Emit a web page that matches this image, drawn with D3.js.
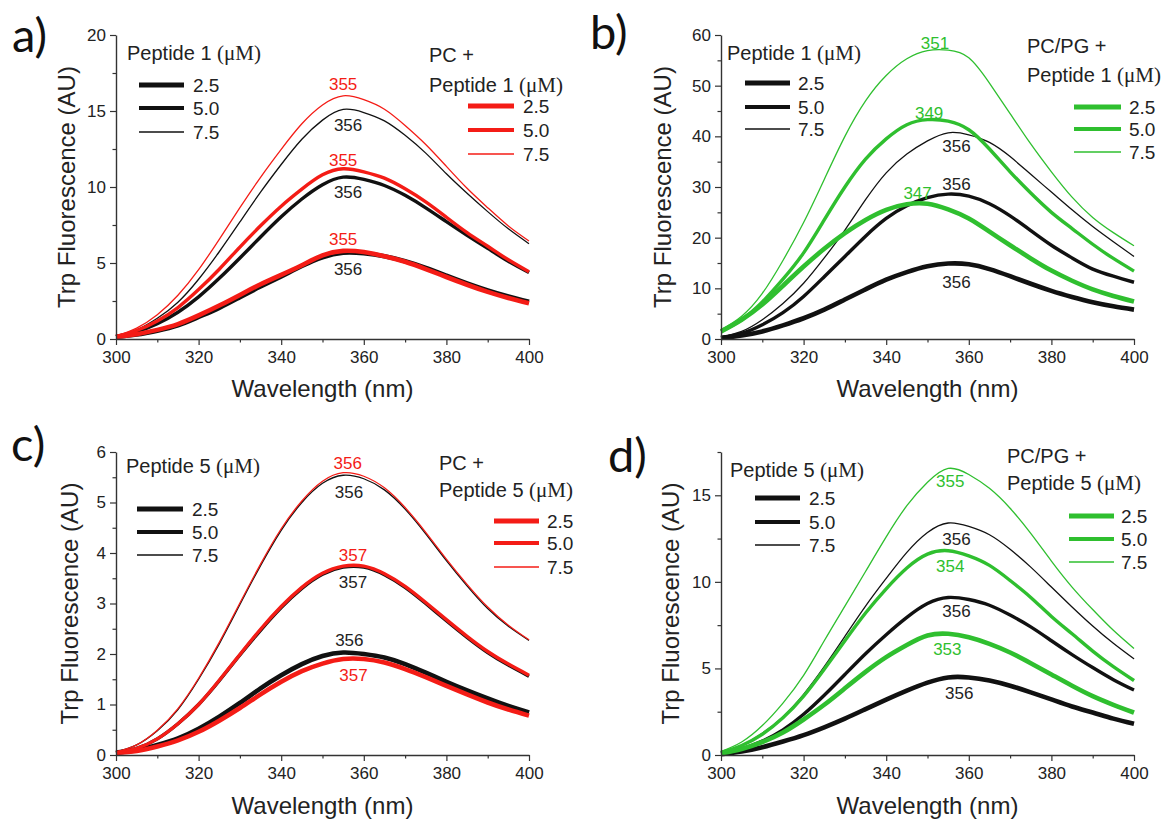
<!DOCTYPE html>
<html><head><meta charset="utf-8">
<script src="https://cdn.jsdelivr.net/npm/d3@7"></script>
<style>body{margin:0;background:#fff}svg{display:block}</style>
</head><body>
<svg id="chart" width="1169" height="819"></svg>
<script>
// ---------------- DATA ----------------
const wavelengths = [300,305,310,315,320,325,330,335,340,345,350,355,360,365,370,375,380,385,390,395,400];
const xMajorTicks = [300,320,340,360,380,400];
const xMinorTicks = [310,330,350,370,390];
const concentrations = ["2.5","5.0","7.5"];

// Panel a: Peptide 1 alone (black) and with PC (red)
const a_pep_25 = [0.15,0.3,0.55,0.9,1.45,2.05,2.75,3.45,4.12,4.8,5.38,5.68,5.64,5.44,5.12,4.68,4.17,3.66,3.2,2.8,2.45];
const a_pep_50 = [0.16,0.48,1.01,1.76,2.77,3.99,5.33,6.71,8.04,9.21,10.15,10.65,10.5,10.1,9.45,8.63,7.72,6.82,5.96,5.11,4.37];
const a_pep_75 = [0.18,0.6,1.36,2.42,3.93,5.74,7.7,9.66,11.48,13.14,14.4,15.1,14.9,14.35,13.4,12.23,10.87,9.59,8.38,7.25,6.27];
const a_pc_25  = [0.15,0.32,0.6,0.98,1.55,2.2,2.9,3.6,4.22,4.85,5.5,5.8,5.72,5.45,5.08,4.6,4.08,3.57,3.1,2.7,2.35];
const a_pc_50  = [0.17,0.56,1.18,2.07,3.25,4.59,6.05,7.45,8.74,9.86,10.8,11.2,11.0,10.58,9.88,9.02,8.01,7.0,6.1,5.21,4.42];
const a_pc_75  = [0.19,0.72,1.6,2.88,4.56,6.56,8.64,10.64,12.48,14.16,15.4,16.0,15.75,15.12,14.05,12.8,11.36,9.92,8.64,7.44,6.45];

// Panel b: Peptide 1 alone (black) and with PC/PG (green)
const b_pep_25 = [0.2,0.7,1.5,2.7,4.1,5.8,7.8,9.8,11.7,13.2,14.35,14.9,14.75,13.8,12.4,10.9,9.5,8.3,7.25,6.45,5.8];
const b_pep_50 = [0.3,1.1,2.8,5.2,8.4,12.3,16.3,20.3,23.8,26.3,27.9,28.6,28.2,26.7,24.3,21.4,18.5,16.0,13.8,12.4,11.2];
const b_pep_75 = [0.4,1.5,3.8,7.0,11.0,16.0,21.5,27.5,32.8,36.5,39.1,40.7,40.3,38.8,36.0,32.5,29.0,25.5,22.2,19.2,16.3];
const b_pg_25  = [1.5,3.8,6.8,10.5,14.3,17.8,20.9,23.5,25.5,26.6,26.7,25.6,23.8,21.2,18.5,15.9,13.5,11.5,9.8,8.5,7.4];
const b_pg_50  = [1.5,3.8,7.3,11.8,17.0,23.5,30.0,35.5,39.5,42.3,43.3,43.0,41.3,37.5,33.0,28.8,25.0,21.8,18.7,15.9,13.4];
const b_pg_75  = [1.8,4.5,9.0,15.5,23.0,31.5,40.0,47.0,52.0,55.3,56.9,57.0,55.5,50.5,44.5,38.5,33.0,28.0,24.0,21.0,18.4];

// Panel c: Peptide 5 alone (black) and with PC (red)
const c_pep_25 = [0.05,0.1,0.2,0.33,0.52,0.76,1.03,1.32,1.58,1.8,1.96,2.03,2.0,1.93,1.8,1.63,1.45,1.28,1.12,0.97,0.84];
const c_pep_50 = [0.04,0.13,0.32,0.62,1.0,1.47,1.98,2.47,2.92,3.3,3.58,3.72,3.72,3.57,3.32,3.0,2.66,2.33,2.03,1.78,1.56];
const c_pep_75 = [0.06,0.2,0.48,0.9,1.5,2.2,2.98,3.75,4.45,5.0,5.38,5.54,5.47,5.25,4.87,4.38,3.85,3.35,2.9,2.55,2.27];
const c_pc_25  = [0.04,0.08,0.17,0.29,0.46,0.68,0.93,1.2,1.45,1.66,1.81,1.9,1.9,1.83,1.7,1.54,1.37,1.2,1.04,0.9,0.78];
const c_pc_50  = [0.04,0.13,0.32,0.62,1.0,1.48,1.99,2.49,2.94,3.32,3.6,3.74,3.74,3.59,3.34,3.02,2.68,2.35,2.05,1.8,1.58];
const c_pc_75  = [0.06,0.2,0.49,0.92,1.52,2.23,3.01,3.78,4.48,5.03,5.42,5.59,5.52,5.29,4.9,4.41,3.88,3.38,2.93,2.57,2.28];

// Panel d: Peptide 5 alone (black) and with PC/PG (green)
const d_pep_25 = [0.05,0.2,0.45,0.78,1.15,1.6,2.1,2.65,3.2,3.72,4.18,4.48,4.48,4.3,4.0,3.62,3.21,2.8,2.45,2.1,1.8];
const d_pep_50 = [0.1,0.35,0.8,1.45,2.35,3.45,4.65,5.85,6.95,7.95,8.75,9.1,8.98,8.65,8.08,7.4,6.6,5.8,5.05,4.35,3.75];
const d_pep_75 = [0.15,0.55,1.25,2.2,3.5,5.1,6.85,8.6,10.2,11.7,12.85,13.4,13.2,12.72,11.88,10.85,9.7,8.55,7.45,6.45,5.55];
const d_pg_25  = [0.1,0.35,0.75,1.3,2.05,2.9,3.85,4.8,5.65,6.35,6.9,7.0,6.8,6.42,5.92,5.3,4.65,4.0,3.4,2.9,2.45];
const d_pg_50  = [0.15,0.55,1.2,2.15,3.4,4.95,6.6,8.2,9.6,10.8,11.6,11.8,11.5,10.95,10.08,9.1,8.0,7.0,6.0,5.1,4.3];
const d_pg_75  = [0.2,0.75,1.7,3.0,4.6,6.6,8.6,10.6,12.6,14.4,15.75,16.55,16.2,15.4,14.25,12.8,11.2,9.7,8.4,7.2,6.15];

// Y tick values
const aYMajor = [0,5,10,15,20],  aYMinor = [2.5,7.5,12.5,17.5];
const bYMajor = [0,10,20,30,40,50,60], bYMinor = [5,15,25,35,45,55];
const cYMajor = [0,1,2,3,4,5,6], cYMinor = [0.5,1.5,2.5,3.5,4.5,5.5];
const dYMajor = [0,5,10,15], dYMinor = [2.5,7.5,12.5,17.5];

// Peak wavelength labels: text, wavelength anchor, intensity anchor, series group
const aPeakLabels = [["355",355,16.8,"mix"],["356",356.2,14.1,"pep"],["355",355,11.8,"mix"],["356",356.2,9.7,"pep"],["355",355,6.6,"mix"],["356",356.2,4.6,"pep"]];
const bPeakLabels = [["351",351.8,58.4,"mix"],["349",350.4,44.6,"mix"],["356",357,38,"pep"],["356",357,30.6,"pep"],["347",347.6,28.9,"mix"],["356",357,11.3,"pep"]];
const cPeakLabels = [["356",356.1,5.79,"mix"],["356",356.4,5.21,"pep"],["357",357.4,3.95,"mix"],["357",357.4,3.42,"pep"],["356",356.5,2.28,"pep"],["357",357.5,1.58,"mix"]];
const dPeakLabels = [["355",355.5,15.8,"mix"],["356",357,12.5,"pep"],["354",355.5,10.9,"mix"],["356",357,8.3,"pep"],["353",354.8,6.1,"mix"],["356",357.7,3.6,"pep"]];

// Legend titles
const aLegend = ["Peptide 1", ["PC +","Peptide 1"]];
const bLegend = ["Peptide 1", ["PC/PG +","Peptide 1"]];
const cLegend = ["Peptide 5", ["PC +","Peptide 5"]];
const dLegend = ["Peptide 5", ["PC/PG +","Peptide 5"]];
const panelLetters = ["a)","b)","c)","d)"];
const xTitle = "Wavelength (nm)";
const yTitle = "Trp Fluorescence (AU)";

// ---------------- STYLE / LAYOUT ----------------
const BLACK = "#111111", RED = "#f41c16", GREEN = "#2fbf2f", TEXT = "#222222";
const widths = [4.6, 3.4, 1.3];
const SANS = "'Liberation Sans', Arial, sans-serif";
const SERIF = "'Liberation Serif', 'Times New Roman', serif";

const panels = [
  {letter:panelLetters[0], lx:12, ly:52, left:116, right:529, top:35, bottom:339, ymax:20, yMajor:aYMajor, yMinor:aYMinor,
   pep:[a_pep_25,a_pep_50,a_pep_75], mix:[a_pc_25,a_pc_50,a_pc_75], mixColor:RED, labels:aPeakLabels, legend:aLegend,
   yTitleX:75, xTitleY:397,
   L:{tx:127, ty:60, x0:139, x1:184, ys:[85,108,132], lab:193},
   R:{tx:429, ty:[62,92], x0:468, x1:514, ys:[106,130,154], lab:523}},
  {letter:panelLetters[1], lx:590, ly:49, left:721, right:1134, top:35, bottom:339, ymax:60, yMajor:bYMajor, yMinor:bYMinor,
   pep:[b_pep_25,b_pep_50,b_pep_75], mix:[b_pg_25,b_pg_50,b_pg_75], mixColor:GREEN, labels:bPeakLabels, legend:bLegend,
   yTitleX:671, xTitleY:397,
   L:{tx:727, ty:60, x0:745, x1:790, ys:[83,107,129], lab:798},
   R:{tx:1027, ty:[53,82], x0:1074, x1:1121, ys:[107,129,152], lab:1129}},
  {letter:panelLetters[2], lx:11, ly:461, left:116, right:529, top:452, bottom:755, ymax:6, yMajor:cYMajor, yMinor:cYMinor,
   pep:[c_pep_25,c_pep_50,c_pep_75], mix:[c_pc_25,c_pc_50,c_pc_75], mixColor:RED, labels:cPeakLabels, legend:cLegend,
   yTitleX:78, xTitleY:814,
   L:{tx:126, ty:473, x0:137, x1:183, ys:[509,532,555], lab:192},
   R:{tx:439, ty:[470,497], x0:494, x1:539, ys:[521,543,567], lab:547}},
  {letter:panelLetters[3], lx:608, ly:472, left:721, right:1134, top:452, bottom:755, ymax:17.5, yMajor:dYMajor, yMinor:dYMinor,
   pep:[d_pep_25,d_pep_50,d_pep_75], mix:[d_pg_25,d_pg_50,d_pg_75], mixColor:GREEN, labels:dPeakLabels, legend:dLegend,
   yTitleX:679, xTitleY:814,
   L:{tx:730, ty:477, x0:755, x1:800, ys:[498,522,545], lab:809},
   R:{tx:1007, ty:[463,490], x0:1069, x1:1114, ys:[516,539,562], lab:1121}}
];

const svg = d3.select("#chart");

function legendTitle(g, x, y, name) {
  const t = g.append("text").attr("x", x).attr("y", y).attr("font-family", SANS).attr("font-size", 20).attr("fill", TEXT);
  t.append("tspan").text(name + " ");
  t.append("tspan").attr("font-family", SERIF).attr("font-size", 21).text("(\u03BCM)");
}

function styleAxis(sel) {
  sel.select(".domain").attr("stroke", "#333").attr("stroke-width", 1.4);
  sel.selectAll(".tick line").attr("stroke", "#333").attr("stroke-width", 1.2);
  sel.selectAll(".tick text").attr("font-family", SANS).attr("font-size", 17).attr("fill", TEXT);
}

panels.forEach(p => {
  const g = svg.append("g");
  const x = d3.scaleLinear().domain([300, 400]).range([p.left, p.right]);
  const y = d3.scaleLinear().domain([0, p.ymax]).range([p.bottom, p.top]);
  const line = d3.line().x((d, i) => x(wavelengths[i])).y(d => y(d)).curve(d3.curveNatural);

  // curves
  p.pep.forEach((vals, i) => g.append("path").attr("d", line(vals)).attr("fill", "none")
    .attr("stroke", BLACK).attr("stroke-width", widths[i]).attr("stroke-linejoin", "round"));
  p.mix.forEach((vals, i) => g.append("path").attr("d", line(vals)).attr("fill", "none")
    .attr("stroke", p.mixColor).attr("stroke-width", widths[i]).attr("stroke-linejoin", "round"));

  // axes
  const xa = g.append("g").attr("transform", `translate(0,${p.bottom})`)
    .call(d3.axisBottom(x).tickValues(xMajorTicks).tickSize(6).tickSizeOuter(0).tickPadding(6).tickFormat(d3.format("d")));
  styleAxis(xa);
  const xm = g.append("g").attr("transform", `translate(0,${p.bottom})`)
    .call(d3.axisBottom(x).tickValues(xMinorTicks).tickSize(3.5).tickFormat(""));
  xm.select(".domain").remove(); styleAxis(xm);
  const ya = g.append("g").attr("transform", `translate(${p.left},0)`)
    .call(d3.axisLeft(y).tickValues(p.yMajor).tickSize(6).tickSizeOuter(0).tickPadding(4).tickFormat(d3.format("d")));
  styleAxis(ya);
  const ym = g.append("g").attr("transform", `translate(${p.left},0)`)
    .call(d3.axisLeft(y).tickValues(p.yMinor).tickSize(3.5).tickFormat(""));
  ym.select(".domain").remove(); styleAxis(ym);

  // axis titles
  g.append("text").attr("x", (p.left + p.right) / 2).attr("y", p.xTitleY).attr("text-anchor", "middle")
    .attr("font-family", SANS).attr("font-size", 24).attr("fill", TEXT).text(xTitle);
  g.append("text").attr("transform", `translate(${p.yTitleX},${(p.top + p.bottom) / 2}) rotate(-90)`)
    .attr("text-anchor", "middle").attr("font-family", SANS).attr("font-size", 24).attr("fill", TEXT).text(yTitle);

  // panel letter
  g.append("text").attr("x", p.lx).attr("y", p.ly).attr("font-family", "Lato, 'Open Sans', sans-serif")
    .attr("font-size", 47).attr("fill", "#111").text(p.letter);

  // peak labels
  p.labels.forEach(l => g.append("text").attr("x", x(l[1])).attr("y", y(l[2])).attr("dy", "0.35em")
    .attr("text-anchor", "middle").attr("font-family", SANS).attr("font-size", 17)
    .attr("fill", l[3] === "pep" ? TEXT : p.mixColor).text(l[0]));

  // left legend (peptide alone)
  legendTitle(g, p.L.tx, p.L.ty, p.legend[0]);
  concentrations.forEach((c, i) => {
    g.append("line").attr("x1", p.L.x0).attr("x2", p.L.x1).attr("y1", p.L.ys[i]).attr("y2", p.L.ys[i])
      .attr("stroke", BLACK).attr("stroke-width", widths[i] + (i < 2 ? 0.6 : 0));
    g.append("text").attr("x", p.L.lab).attr("y", p.L.ys[i]).attr("dy", "0.36em").attr("font-family", SANS)
      .attr("font-size", 19).attr("fill", TEXT).text(c);
  });
  // right legend (lipid + peptide)
  g.append("text").attr("x", p.R.tx).attr("y", p.R.ty[0]).attr("font-family", SANS).attr("font-size", 20)
    .attr("fill", TEXT).text(p.legend[1][0]);
  legendTitle(g, p.R.tx, p.R.ty[1], p.legend[1][1]);
  concentrations.forEach((c, i) => {
    g.append("line").attr("x1", p.R.x0).attr("x2", p.R.x1).attr("y1", p.R.ys[i]).attr("y2", p.R.ys[i])
      .attr("stroke", p.mixColor).attr("stroke-width", widths[i] + (i < 2 ? 0.6 : 0));
    g.append("text").attr("x", p.R.lab).attr("y", p.R.ys[i]).attr("dy", "0.36em").attr("font-family", SANS)
      .attr("font-size", 19).attr("fill", TEXT).text(c);
  });
});
</script>
</body></html>
